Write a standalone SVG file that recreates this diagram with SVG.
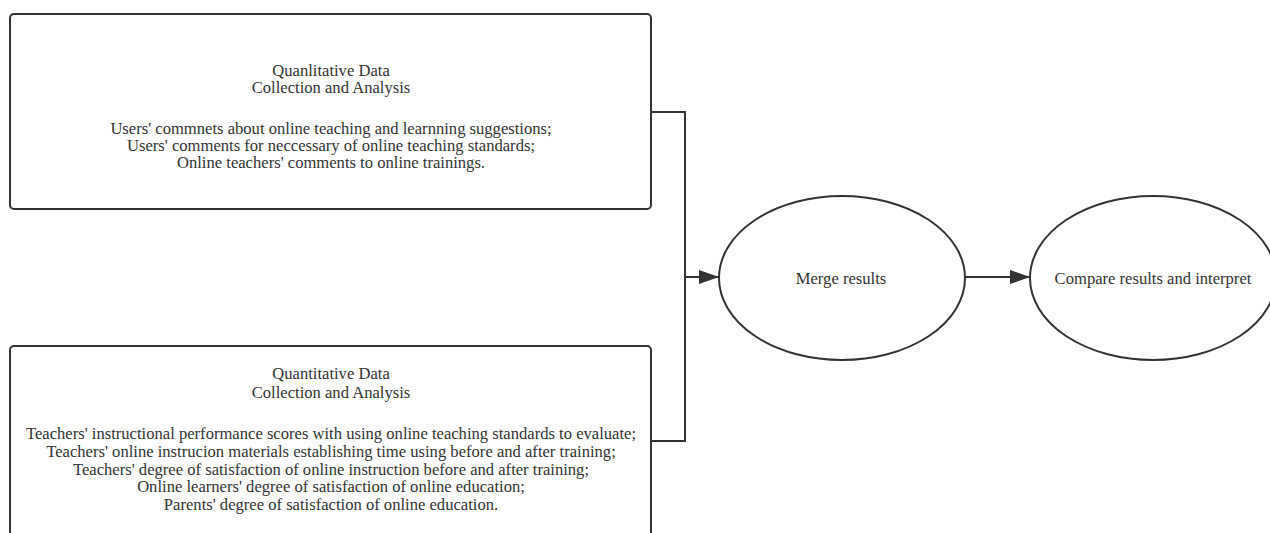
<svg xmlns="http://www.w3.org/2000/svg" width="1270" height="533" viewBox="0 0 1270 533">
<style>
.box{fill:#fff;stroke:#333;stroke-width:2}
.t{font-family:'Liberation Serif', 'Times New Roman', serif;font-size:16.6px;fill:#333;text-anchor:middle}
.c{fill:none;stroke:#333;stroke-width:2}
</style>
<defs>
<marker id="ah" markerWidth="20" markerHeight="14" refX="20" refY="7" orient="auto" markerUnits="userSpaceOnUse">
<path d="M0,0 L20,7 L0,14 Z" fill="#333"/>
</marker>
</defs>
<rect width="1270" height="533" fill="#fff"/>
<g id="qual">
<rect class="box" x="10" y="14" width="641" height="195" rx="4"/>
<text class="t" x="331" y="76">Quanlitative Data</text>
<text class="t" x="331" y="93">Collection and Analysis</text>
<text class="t" x="331" y="134">Users' commnets about online teaching and learnning suggestions;</text>
<text class="t" x="331" y="151">Users' comments for neccessary of online teaching standards;</text>
<text class="t" x="331" y="168">Online teachers' comments to online trainings.</text>
</g>
<g id="quant">
<rect class="box" x="10" y="346" width="641" height="200" rx="4"/>
<text class="t" x="331" y="379">Quantitative Data</text>
<text class="t" x="331" y="398">Collection and Analysis</text>
<text class="t" x="331" y="439">Teachers' instructional performance scores with using online teaching standards to evaluate;</text>
<text class="t" x="331" y="457">Teachers' online instrucion materials establishing time using before and after training;</text>
<text class="t" x="331" y="475">Teachers' degree of satisfaction of online instruction before and after training;</text>
<text class="t" x="331" y="492">Online learners' degree of satisfaction of online education;</text>
<text class="t" x="331" y="510">Parents' degree of satisfaction of online education.</text>
</g>
<g id="merge">
<ellipse class="box" cx="842" cy="278" rx="123" ry="82"/>
<text class="t" x="841" y="284">Merge results</text>
</g>
<g id="compare">
<ellipse class="box" cx="1153" cy="278" rx="123" ry="82"/>
<text class="t" x="1153" y="284">Compare results and interpret</text>
</g>
<g id="connectors">
<path class="c" d="M651,112 H685 V441 H651"/>
<path class="c" d="M685,277 H719" marker-end="url(#ah)"/>
<path class="c" d="M965,277 H1030" marker-end="url(#ah)"/>
</g>
</svg>
